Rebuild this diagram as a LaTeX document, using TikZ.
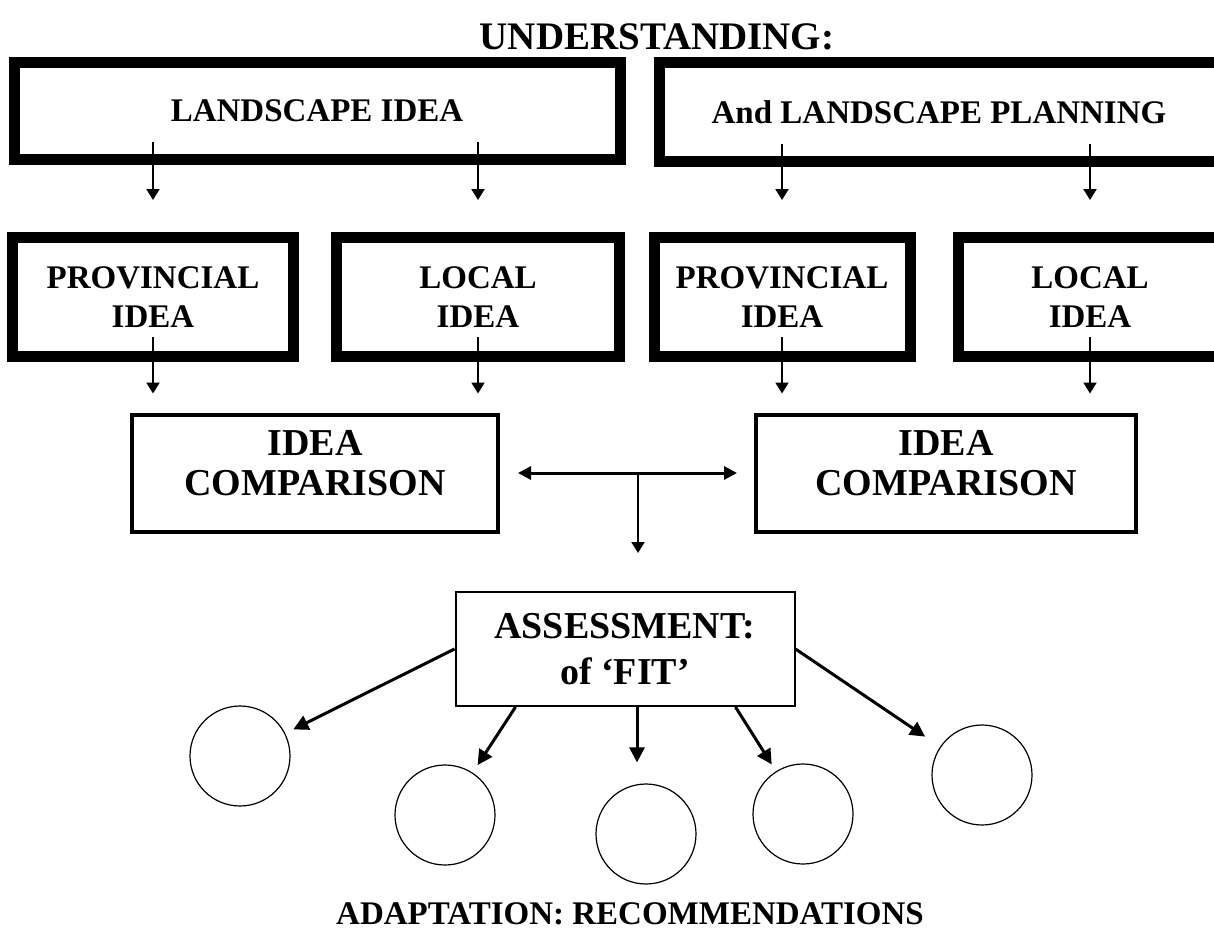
\documentclass[tikz,border=0pt]{standalone}
\usepackage{fontspec}
\setmainfont{Liberation Serif}
\usetikzlibrary{arrows.meta, positioning}

\tikzset{
    heavybox/.style={draw, line width=11pt, inner sep=0pt, align=center,
        font=\fontsize{33}{39}\selectfont\bfseries},
    cmpbox/.style={draw, line width=4pt, inner sep=0pt, align=center,
        font=\fontsize{38}{40}\selectfont\bfseries},
    fitbox/.style={draw, line width=2pt, inner sep=0pt, align=center,
        font=\fontsize{38}{46}\selectfont\bfseries},
    option/.style={draw, circle, line width=1.2pt, minimum size=100pt, inner sep=0pt},
    arr/.style={-{Triangle[length=11pt,width=13pt]}, line width=2pt},
    fatarr/.style={-{Triangle[length=15pt,width=15pt]}, line width=3pt},
    dblarr/.style={{Triangle[length=13pt,width=13pt]}-{Triangle[length=13pt,width=13pt]}, line width=3pt}
}

\begin{document}
\begin{tikzpicture}[x=1pt, y=-1pt]
    \useasboundingbox (0,0) rectangle (1214,931);

    % Title
    \node[anchor=base, font=\fontsize{39}{44}\selectfont\bfseries] (title) at (657,50) {UNDERSTANDING:};

    % Top boxes
    \node[heavybox, minimum width=606pt, minimum height=97pt] (lsA) at (317,111) {LANDSCAPE IDEA};
    \node[heavybox, minimum width=560pt, minimum height=98pt] (lsB) at (939,112) {And LANDSCAPE PLANNING};

    % Provincial / local boxes
    \node[heavybox, minimum width=281pt, minimum height=119pt] (provA) at (153,297) {PROVINCIAL\\IDEA};
    \node[heavybox, minimum width=283pt, minimum height=119pt] (locA) at (478,297) {LOCAL\\IDEA};
    \node[heavybox, minimum width=256pt, minimum height=119pt] (provB) at (782,297) {PROVINCIAL\\IDEA};
    \node[heavybox, minimum width=264pt, minimum height=119pt] (locB) at (1090,297) {LOCAL\\IDEA};

    % Comparison boxes (text sits high in the box)
    \node[cmpbox, minimum width=366pt, minimum height=117pt] (cmpA) at (315,473) {IDEA\\COMPARISON\rule[-20pt]{0pt}{0pt}};
    \node[cmpbox, minimum width=380pt, minimum height=117pt] (cmpB) at (946,473) {IDEA\\COMPARISON\rule[-20pt]{0pt}{0pt}};

    % Assessment
    \node[fitbox, minimum width=339pt, minimum height=114pt] (fit) at (625,649) {ASSESSMENT:\\of `FIT'};

    % Outcomes
    \node[option] (c1) at (240,756) {};
    \node[option] (c2) at (445,815) {};
    \node[option] (c3) at (646,834) {};
    \node[option] (c4) at (803,814) {};
    \node[option] (c5) at (982,775) {};

    \node[anchor=base, font=\fontsize{33}{38}\selectfont\bfseries] (recs) at (630,924) {ADAPTATION: RECOMMENDATIONS};

    % Arrows top -> second row
    \draw[arr, shorten <=-23pt, shorten >=32pt] (lsA.south -| provA.north) -- (provA.north);
    \draw[arr, shorten <=-23pt, shorten >=32pt] (lsA.south -| locA.north) -- (locA.north);
    \draw[arr, shorten <=-23pt, shorten >=32pt] (lsB.south -| provB.north) -- (provB.north);
    \draw[arr, shorten <=-23pt, shorten >=32pt] (lsB.south -| locB.north) -- (locB.north);

    % Arrows second row -> comparison
    \draw[arr, shorten <=-25pt, shorten >=19pt] (provA.south) -- (provA.south |- cmpA.north);
    \draw[arr, shorten <=-25pt, shorten >=19pt] (locA.south) -- (locA.south |- cmpA.north);
    \draw[arr, shorten <=-25pt, shorten >=19pt] (provB.south) -- (provB.south |- cmpB.north);
    \draw[arr, shorten <=-25pt, shorten >=19pt] (locB.south) -- (locB.south |- cmpB.north);

    % Comparison link
    \draw[dblarr, shorten <=18pt, shorten >=17pt] (cmpA.east) -- (cmpB.west);
    \coordinate (hub) at (638,473);
    \draw[arr, shorten >=38pt] (hub) -- (hub |- fit.north);

    % Assessment -> outcomes
    \draw[fatarr, shorten >=9pt] (fit.west) -- (c1);
    \draw[fatarr, shorten >=9pt] ([xshift=61pt]fit.south west) -- (c2);
    \draw[fatarr, shorten >=21pt] ([xshift=12pt]fit.south) -- ([xshift=12pt]fit.south |- c3.north);
    \draw[fatarr, shorten >=8pt] ([xshift=-60pt]fit.south east) -- (c4);
    \draw[fatarr, shorten >=18pt] (fit.east) -- (c5);
\end{tikzpicture}
\end{document}
